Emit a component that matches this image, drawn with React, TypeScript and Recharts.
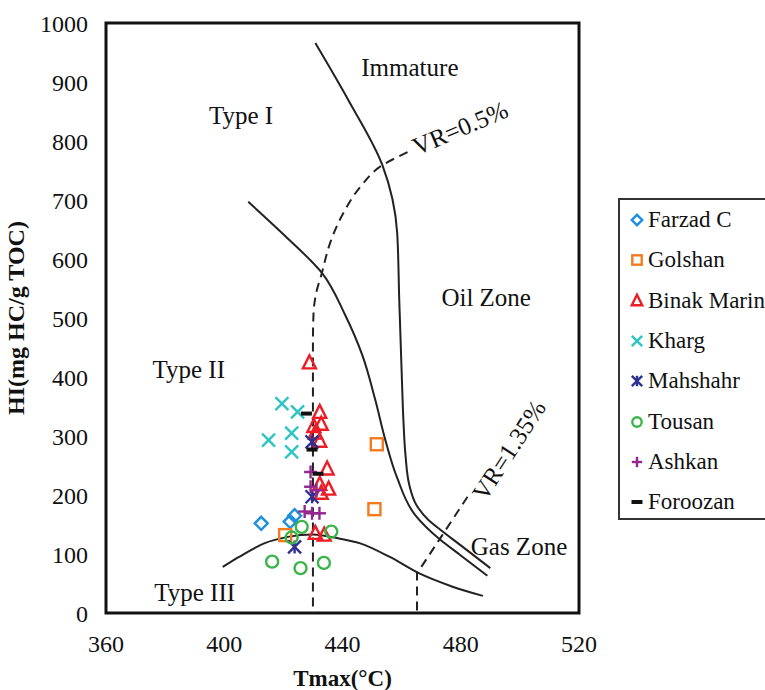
import {
  ScatterChart,
  Scatter,
  XAxis,
  YAxis,
  ReferenceArea,
  ReferenceDot,
  Legend,
} from "recharts";

type Pt = { x: number; y: number };

const FONT = '"Liberation Serif", "Times New Roman", serif';

const xTicks = [360, 400, 440, 480, 520];
const yTicks = [0, 100, 200, 300, 400, 500, 600, 700, 800, 900, 1000];

// sample points (Tmax, HI)
const farzad: Pt[] = [
  { x: 412.5, y: 152 },
  { x: 422.3, y: 155 },
  { x: 423.8, y: 165 },
];
const golshan: Pt[] = [
  { x: 451.6, y: 286 },
  { x: 450.8, y: 176 },
  { x: 420.6, y: 132 },
];
const binak: Pt[] = [
  { x: 428.8, y: 424 },
  { x: 432.3, y: 340 },
  { x: 430.3, y: 316 },
  { x: 432.8, y: 320 },
  { x: 432.3, y: 291 },
  { x: 430.8, y: 305 },
  { x: 434.8, y: 244 },
  { x: 432.3, y: 218 },
  { x: 435.3, y: 210 },
  { x: 432.8, y: 203 },
  { x: 430.8, y: 135 },
  { x: 433.8, y: 132 },
];
const kharg: Pt[] = [
  { x: 419.5, y: 355 },
  { x: 424.8, y: 341 },
  { x: 415.0, y: 293 },
  { x: 422.8, y: 305 },
  { x: 422.8, y: 273 },
];
const mahshahr: Pt[] = [
  { x: 429.7, y: 290 },
  { x: 429.7, y: 197 },
  { x: 423.8, y: 112 },
];
const tousan: Pt[] = [
  { x: 416.2, y: 87 },
  { x: 425.8, y: 76 },
  { x: 433.7, y: 85 },
  { x: 426.2, y: 146 },
  { x: 422.8, y: 128 },
  { x: 436.2, y: 138 },
];
const ashkan: Pt[] = [
  { x: 429.2, y: 239 },
  { x: 429.2, y: 214 },
  { x: 431.2, y: 208 },
  { x: 427.2, y: 172 },
  { x: 429.7, y: 169 },
  { x: 432.2, y: 169 },
];
const foroozan: Pt[] = [
  { x: 427.8, y: 338 },
  { x: 429.7, y: 277 },
  { x: 431.7, y: 236 },
];

// boundary curves
const immatureLine: Pt[] = [
  { x: 430.8, y: 966 },
  { x: 442, y: 869 },
  { x: 453.5, y: 759 },
  { x: 458.5, y: 644 },
  { x: 459.2, y: 530 },
  { x: 460.1, y: 395 },
  { x: 460.6, y: 327 },
  { x: 461.3, y: 268 },
  { x: 462.6, y: 217 },
  { x: 465, y: 183 },
  { x: 469, y: 158 },
  { x: 473.1, y: 141 },
  { x: 479.9, y: 115 },
  { x: 490, y: 76 },
];
const oilLine: Pt[] = [
  { x: 408.1, y: 697 },
  { x: 420.6, y: 639 },
  { x: 433.1, y: 576 },
  { x: 440.9, y: 505 },
  { x: 446.7, y: 437 },
  { x: 451.1, y: 361 },
  { x: 454.5, y: 293 },
  { x: 458.5, y: 229 },
  { x: 464.6, y: 166 },
  { x: 473.1, y: 124 },
  { x: 479.9, y: 98 },
  { x: 489, y: 63 },
];
const type3Line: Pt[] = [
  { x: 399.5, y: 78 },
  { x: 405, y: 95 },
  { x: 413.5, y: 118 },
  { x: 421.5, y: 129 },
  { x: 430, y: 133 },
  { x: 438, y: 127 },
  { x: 446, y: 118 },
  { x: 456, y: 95 },
  { x: 466, y: 67 },
  { x: 477, y: 45 },
  { x: 487.5, y: 29 },
];
const vr05Line: Pt[] = [
  { x: 462, y: 781 },
  { x: 453.5, y: 759 },
  { x: 446, y: 722 },
  { x: 440.3, y: 678 },
  { x: 436, y: 630 },
  { x: 433, y: 576 },
  { x: 431, y: 540 },
  { x: 430.2, y: 508 },
  { x: 430, y: 460 },
  { x: 430, y: 0 },
];
const vr135Line: Pt[] = [
  { x: 482.3, y: 197 },
  { x: 465.2, y: 67 },
  { x: 465.2, y: 0 },
];

const zoneLabels = [
  { x: 405.7, y: 844, text: "Type I", angle: 0 },
  { x: 462.8, y: 925, text: "Immature", angle: 0 },
  { x: 488.6, y: 534, text: "Oil Zone", angle: 0 },
  { x: 388, y: 412, text: "Type II", angle: 0 },
  { x: 390, y: 34, text: "Type III", angle: 0 },
  { x: 499.7, y: 112, text: "Gas Zone", angle: 0 },
  { x: 479.8, y: 822, text: "VR=0.5%", angle: -23 },
  { x: 496.3, y: 276, text: "VR=1.35%", angle: -57 },
];

type Kind = "diamond" | "square" | "triangle" | "x" | "star" | "circle" | "plus" | "dash";

const series: { name: string; data: Pt[]; kind: Kind; color: string }[] = [
  { name: "Farzad C", data: farzad, kind: "diamond", color: "#1b8fe0" },
  { name: "Golshan", data: golshan, kind: "square", color: "#f47a20" },
  { name: "Binak Marin", data: binak, kind: "triangle", color: "#ee1d25" },
  { name: "Kharg", data: kharg, kind: "x", color: "#2ec5c5" },
  { name: "Mahshahr", data: mahshahr, kind: "star", color: "#2e3192" },
  { name: "Tousan", data: tousan, kind: "circle", color: "#3ab54a" },
  { name: "Ashkan", data: ashkan, kind: "plus", color: "#92278f" },
  { name: "Foroozan", data: foroozan, kind: "dash", color: "#111" },
];

function marker(kind: Kind, color: string, cx: number, cy: number, k = 1) {
  const sw = 2.4;
  const common = { stroke: color, strokeWidth: sw, fill: "none" };
  const s = 6.5 * k;
  switch (kind) {
    case "diamond":
      return <polygon points={`${cx},${cy - s} ${cx + s},${cy} ${cx},${cy + s} ${cx - s},${cy}`} {...common} />;
    case "square":
      return <rect x={cx - s + 0.5} y={cy - s + 0.5} width={2 * s - 1} height={2 * s - 1} {...common} />;
    case "triangle":
      return <polygon points={`${cx},${cy - s - 1} ${cx + s},${cy + s - 1} ${cx - s},${cy + s - 1}`} {...common} />;
    case "x":
      return (
        <g {...common}>
          <line x1={cx - s} y1={cy - s} x2={cx + s} y2={cy + s} />
          <line x1={cx - s} y1={cy + s} x2={cx + s} y2={cy - s} />
        </g>
      );
    case "star":
      return (
        <g {...common}>
          <line x1={cx - s} y1={cy - s} x2={cx + s} y2={cy + s} />
          <line x1={cx - s} y1={cy + s} x2={cx + s} y2={cy - s} />
          <line x1={cx} y1={cy - s} x2={cx} y2={cy + s} />
        </g>
      );
    case "circle":
      return <circle cx={cx} cy={cy} r={s - 0.5} {...common} />;
    case "plus":
      return (
        <g {...common}>
          <line x1={cx - s} y1={cy} x2={cx + s} y2={cy} />
          <line x1={cx} y1={cy - s} x2={cx} y2={cy + s} />
        </g>
      );
    case "dash":
      return <rect x={cx - 5.5} y={cy - 2} width={11} height={4} fill={color} />;
  }
}

const renderLegend = () => (
  <div
    style={{
      position: "relative",
      width: 200,
      height: 322,
      border: "2px solid #333",
      background: "#fff",
      boxSizing: "border-box",
      fontFamily: FONT,
      fontSize: 23,
      color: "#111",
    }}
  >
    {series.map((s, i) => (
      <div
        key={s.name}
        style={{
          position: "absolute",
          left: 7,
          top: 20 + i * 40.3 - 14,
          height: 28,
          display: "flex",
          alignItems: "center",
          whiteSpace: "nowrap",
          fontFamily: FONT,
        }}
      >
        <svg width={20} height={20} style={{ marginRight: 1 }}>
          {marker(s.kind, s.color, 10, 10, 0.8)}
        </svg>
        <span>{s.name}</span>
      </div>
    ))}
  </div>
);

const noDot = () => <g />;
const tickStyle = { fontFamily: FONT, fontSize: 24, fill: "#111" };

export default function App() {
  return (
    <div
      style={{
        position: "absolute",
        left: 0,
        top: 0,
        width: 765,
        height: 690,
        background: "#fff",
        fontFamily: FONT,
        overflow: "hidden",
      }}
    >
      <ScatterChart width={765} height={690} margin={{ top: 23, right: 186, bottom: 0, left: 0 }}>
        <XAxis
          type="number"
          dataKey="x"
          domain={[360, 520]}
          ticks={xTicks}
          axisLine={false}
          tickLine={false}
          tickSize={0}
          tickMargin={22}
          height={77}
          tick={{ ...tickStyle, style: tickStyle }}
          label={{
            value: "Tmax(°C)",
            position: "insideBottom",
            offset: 4,
            style: { fontFamily: FONT, fontSize: 23, fontWeight: "bold", fill: "#111" },
          }}
        />
        <YAxis
          type="number"
          dataKey="y"
          domain={[0, 1000]}
          ticks={yTicks}
          axisLine={false}
          tickLine={false}
          tickSize={0}
          tickMargin={18}
          width={106}
          tick={{ ...tickStyle, style: tickStyle }}
          label={{
            value: "HI(mg HC/g TOC)",
            angle: -90,
            position: "insideLeft",
            offset: 15,
            style: { fontFamily: FONT, fontSize: 24, fontWeight: "bold", fill: "#111", textAnchor: "middle" },
          }}
        />
        <ReferenceArea x1={360} x2={520} y1={0} y2={1000} fill="none" stroke="#111" strokeWidth={3} />

        <Scatter data={immatureLine} line={{ stroke: "#222", strokeWidth: 2 }} lineJointType="monotoneY" shape={noDot} isAnimationActive={false} legendType="none" />
        <Scatter data={oilLine} line={{ stroke: "#222", strokeWidth: 2 }} lineJointType="monotoneY" shape={noDot} isAnimationActive={false} legendType="none" />
        <Scatter data={type3Line} line={{ stroke: "#222", strokeWidth: 2 }} lineJointType="monotoneX" shape={noDot} isAnimationActive={false} legendType="none" />
        <Scatter data={vr05Line} line={{ stroke: "#222", strokeWidth: 2, strokeDasharray: "9 6" }} lineJointType="monotoneY" shape={noDot} isAnimationActive={false} legendType="none" />
        <Scatter data={vr135Line} line={{ stroke: "#222", strokeWidth: 2, strokeDasharray: "9 6" }} shape={noDot} isAnimationActive={false} legendType="none" />

        {zoneLabels.map((l) => (
          <ReferenceDot
            key={l.text}
            x={l.x}
            y={l.y}
            r={0}
            shape={(p: any) => (
              <text
                x={p.cx}
                y={p.cy}
                textAnchor="middle"
                dominantBaseline="central"
                transform={l.angle ? `rotate(${l.angle} ${p.cx} ${p.cy})` : undefined}
                style={{ fontFamily: FONT, fontSize: 25, fill: "#111" }}
              >
                {l.text}
              </text>
            )}
          />
        ))}

        {series.map((s) => (
          <Scatter
            key={s.name}
            name={s.name}
            data={s.data}
            isAnimationActive={false}
            shape={(p: any) => marker(s.kind, s.color, p.cx, p.cy)}
          />
        ))}

        <Legend
          layout="horizontal"
          verticalAlign="middle"
          align="center"
          content={renderLegend}
          wrapperStyle={{ left: 618, top: 198, width: 200, height: 322 }}
        />
      </ScatterChart>
    </div>
  );
}
